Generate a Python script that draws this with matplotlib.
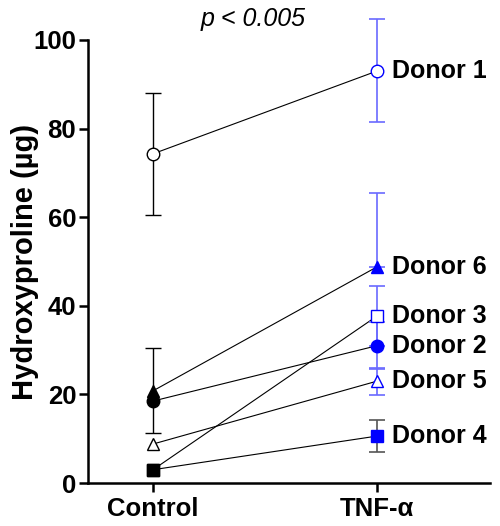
import numpy as np
import matplotlib
matplotlib.use("Agg")
import matplotlib.pyplot as plt

plt.rcParams['font.family'] = ['Liberation Sans', 'DejaVu Sans']

groups = ["Control", "TNF-α"]
donors = ["Donor 1", "Donor 2", "Donor 3", "Donor 4", "Donor 5", "Donor 6"]
markers = ["o", "o", "s", "s", "^", "^"]
filled = [False, True, False, True, False, True]

control = [74.3, 18.5, 3.0, 3.0, 8.8, 20.8]
tnf = [93.0, 31.0, 37.7, 10.6, 23.0, 48.8]

# error bars (lower, upper)
control_err_lo = [13.8, 0, 0, 0, 0, 9.5]
control_err_hi = [13.8, 0, 0, 0, 0, 9.7]
tnf_err_lo = [11.6, 5.3, 6.8, 3.6, 3.1, 0]
tnf_err_hi = [11.7, 5.3, 6.8, 3.6, 2.9, 16.7]

blue = "#0000ff"
light_blue = "#6a6aff"
tnf_err_colors = [light_blue, light_blue, light_blue, "#555555", light_blue, light_blue]

fig = plt.figure(figsize=(5, 5.26), dpi=100)
ax = fig.add_axes([0.176, 0.0817, 0.804, 0.8423])

x = [0, 1]
for i in range(len(donors)):
    ax.plot(x, [control[i], tnf[i]], color="black", lw=0.8, zorder=1)
    if control_err_lo[i] or control_err_hi[i]:
        ax.errorbar(0, control[i], yerr=[[control_err_lo[i]], [control_err_hi[i]]],
                    fmt="none", ecolor="black", elinewidth=1, capsize=6, capthick=1,
                    zorder=2, clip_on=False)
    ax.errorbar(1, tnf[i], yerr=[[tnf_err_lo[i]], [tnf_err_hi[i]]],
                fmt="none", ecolor=tnf_err_colors[i], elinewidth=1.2, capsize=6, capthick=1.2,
                zorder=2, clip_on=False)
    ax.plot(0, control[i], marker=markers[i], ms=9, mec="black", mew=1,
            mfc="black" if filled[i] else "white", zorder=3, clip_on=False)
    ax.plot(1, tnf[i], marker=markers[i], ms=9, mec=blue, mew=1,
            mfc=blue if filled[i] else "white", zorder=3, clip_on=False)
    ax.text(1.067, tnf[i], donors[i], fontsize=18, fontweight="bold", va="center", ha="left")

ax.set_xlim(-0.29, 1.504)
ax.set_ylim(0, 100)
ax.set_yticks([0, 20, 40, 60, 80, 100])
ax.set_xticks(x)
ax.set_xticklabels(groups)
for lab in ax.get_xticklabels() + ax.get_yticklabels():
    lab.set_fontweight("bold")
ax.tick_params(axis="both", labelsize=18.5, width=1.8, length=6.5, direction="out")
ax.tick_params(axis="y", pad=2)
ax.set_ylabel("Hydroxyproline (µg)", fontsize=21, fontweight="bold", labelpad=-4)
for s in ["top", "right"]:
    ax.spines[s].set_visible(False)
for s in ["left", "bottom"]:
    ax.spines[s].set_linewidth(1.8)

ax.text(0.445, 104.7, "p < 0.005", fontsize=18, style="italic", ha="center", va="center")

fig.savefig("out.png", dpi=100)
